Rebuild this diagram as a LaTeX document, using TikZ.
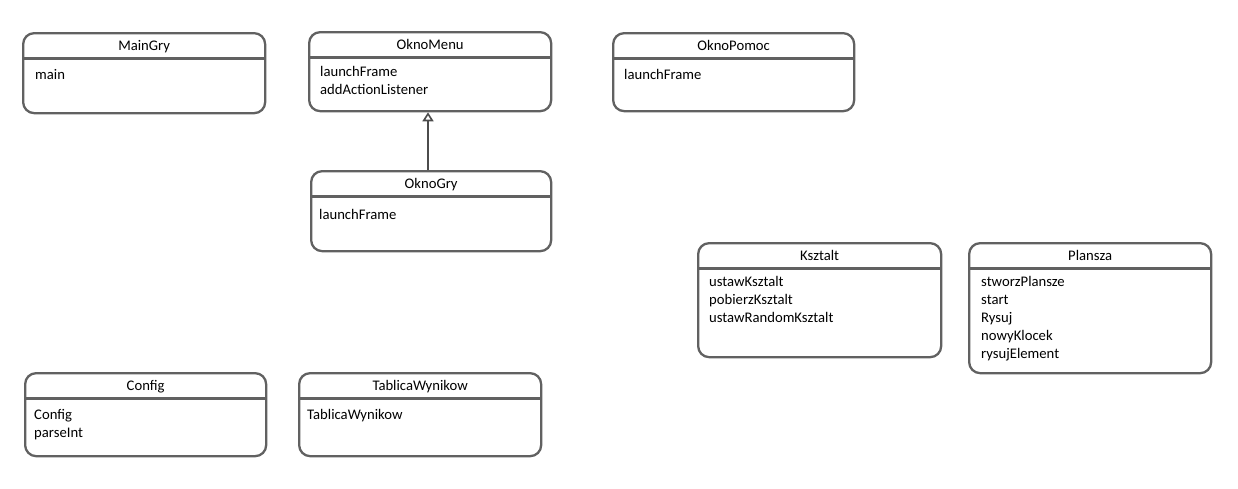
\documentclass[tikz,border=0pt]{standalone}
\usepackage{fontspec}
\setmainfont{Carlito}
\usetikzlibrary{arrows.meta}
\tikzset{
  classbox/.style={draw=black!62, line width=2.3pt, rounded corners=11pt, anchor=north west, inner sep=0pt},
  headline/.style={draw=black!62, line width=2.2pt},
  titletext/.style={inner sep=0pt, anchor=base, font=\fontsize{14.67}{18}\selectfont},
  itemtext/.style={inner sep=0pt, anchor=base west, font=\fontsize{14.67}{18}\selectfont},
  inherit/.style={draw=black!70, line width=2pt, -{Triangle[open, length=9pt, width=11pt, line width=1.6pt]}},
}
% \umlclass{name}{left}{top}{right}{bottom}{itemoff}{itemx}{title}{items}
\newcommand{\umlclass}[9]{%
  \node[classbox, minimum width={(#4-#2)*1pt}, minimum height={(#5-#3)*1pt}] (#1) at (#2,-#3) {};
  \node[titletext] (#1-title) at ([yshift=-18.5pt]#1.north) {#8};
  \draw[headline] ([yshift=-26.5pt]#1.north west) -- ([yshift=-26.5pt]#1.north east);
  \foreach \t [count=\i] in {#9} {
    \node[itemtext] (#1-item\i) at ([xshift=#7 pt, yshift={-#6pt-5pt-(\i-1)*18pt}]#1.north west) {\t};
  }
}
\begin{document}
\begin{tikzpicture}[x=1pt, y=1pt]
\useasboundingbox (0,0) rectangle (1238,-488);
\umlclass{maingry}{22}{32}{264}{112}{42}{13}{MainGry}{main}
\umlclass{oknomenu}{308}{31}{550}{110}{40}{12}{OknoMenu}{launchFrame,addActionListener}
\umlclass{oknopomoc}{612}{32}{853}{110}{42}{12}{OknoPomoc}{launchFrame}
\umlclass{oknogry}{310}{170}{550}{250}{44}{9}{OknoGry}{launchFrame}
\umlclass{ksztalt}{697}{242}{940}{356}{39}{12}{Ksztalt}{ustawKsztalt,pobierzKsztalt,ustawRandomKsztalt}
\umlclass{plansza}{968}{242}{1210}{372}{39}{13}{Plansza}{stworzPlansze,start,Rysuj,nowyKlocek,rysujElement}
\umlclass{config}{24}{372}{265}{455}{42}{10}{Config}{Config,parseInt}
\umlclass{tablica}{298}{372}{540}{455}{42}{9}{TablicaWynikow}{TablicaWynikow}
\draw[inherit] (oknogry.north -| 428,0) -- (oknomenu.south -| 428,0);
\end{tikzpicture}
\end{document}
